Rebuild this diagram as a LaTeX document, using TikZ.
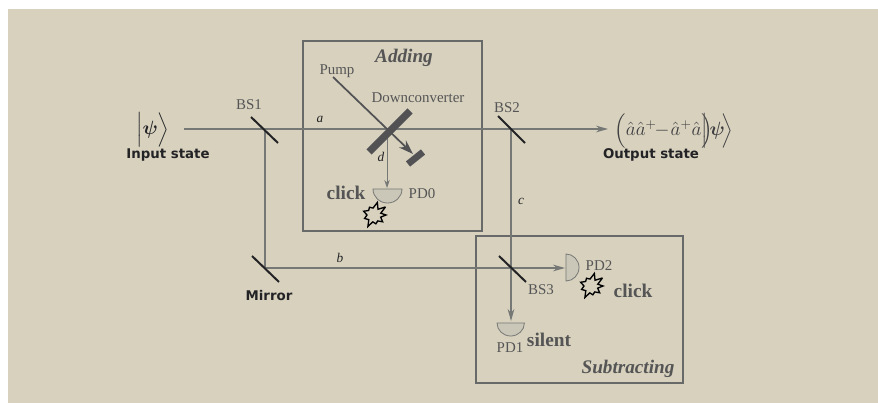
\documentclass[tikz,border=0pt]{standalone}
\usepackage{amsmath,bm}
\usepackage{fontspec}
\setmainfont{Liberation Serif}
\newfontfamily\labelsans{DejaVu Sans}
\usetikzlibrary{arrows.meta}
\definecolor{bgbeige}{RGB}{215,209,190}
\definecolor{boxgray}{RGB}{104,106,106}
\definecolor{beamgray}{RGB}{118,120,118}
\definecolor{barblack}{RGB}{35,35,38}
\definecolor{bardark}{RGB}{82,82,84}
\definecolor{txtgray}{RGB}{85,85,85}
\definecolor{mathgray}{RGB}{62,62,64}
\definecolor{pdfill}{RGB}{202,199,184}
\tikzset{
  x=0.75pt,y=-0.75pt,
  framebox/.style={draw=boxgray,line width=1.3pt},
  beam/.style={draw=beamgray,line width=0.8pt},
  beamtip/.style={beam,-{Stealth[length=9pt,width=5pt,fill=beamgray]}},
  splitter/.style={draw=barblack,line width=1.5pt},
  detector/.style={draw=beamgray,line width=0.6pt,fill=pdfill},
  burst/.style={draw=black,line width=1pt,fill=bgbeige,line join=miter,miter limit=3},
  lbl/.style={font=\fontsize{11.2pt}{13pt}\selectfont,text=txtgray,inner sep=0pt},
  beamlbl/.style={font=\fontsize{10pt}{12pt}\selectfont\itshape,text=barblack,inner sep=0pt},
  sanslbl/.style={font=\labelsans\bfseries\fontsize{10pt}{12pt}\selectfont,text=barblack,inner sep=0pt},
  boldlbl/.style={font=\bfseries\fontsize{14.5pt}{16pt}\selectfont,text=txtgray,inner sep=0pt},
  titlelbl/.style={font=\bfseries\itshape\fontsize{14.4pt}{16pt}\selectfont,text=txtgray,inner sep=0pt},
}
\begin{document}
\begin{tikzpicture}
\useasboundingbox (0,0) rectangle (878,403);
\fill[white] (0,0) rectangle (878,403);
\fill[bgbeige] (8,9) rectangle (878,403);
% frames
\draw[framebox] (303,41) rectangle (482,231);
\draw[framebox] (476,236) rectangle (683,383);
% junctions
\coordinate (start) at (184,129);
\coordinate (bs1) at (265,129);
\coordinate (bs2) at (511,129);
\coordinate (out) at (608,129);
\coordinate (mirror) at (265,268);
\coordinate (bs3) at (511,268);
\coordinate (pumpstart) at (333,77);
\coordinate (dc) at (387,131);
\coordinate (pumpend) at (413,154);
% detectors
\draw[detector] (373,189) arc[start angle=180,end angle=0,x radius=14.5,y radius=14] -- cycle;
\coordinate (pd0) at (387,188);
\draw[detector] (566,254) arc[start angle=-90,end angle=90,x radius=13,y radius=13.5] -- cycle;
\coordinate (pd2) at (565,268);
\draw[detector] (497,323) arc[start angle=180,end angle=0,x radius=13.7,y radius=13] -- cycle;
\coordinate (pd1) at (511,321);
% beams
\draw[beam] (start) -- (bs2);
\draw[beamtip] (bs2) -- (out);
\draw[beam] (bs1) -- (mirror);
\draw[beamtip] (mirror) -- (pd2);
\draw[beamtip] (bs2) -- (pd1);
\draw[beam,line width=0.6pt,-{Stealth[length=6pt,width=4pt,fill=beamgray]}] (dc) -- (pd0);
\draw[draw=bardark,line width=1.3pt,-{Stealth[length=11pt,width=7.5pt,fill=bardark]}] (pumpstart) -- (pumpend);
% splitters and mirrors
\draw[splitter] (251,117) -- (278,143);
\draw[splitter] (252,256) -- (279,282);
\draw[splitter] (498,116) -- (525,143);
\draw[splitter] (499,256) -- (526,282);
\draw[draw=bardark,line width=5.5pt] (369,152) -- (410,111);
\draw[draw=bardark,line width=5pt] (408,164) -- (423,152);
% bursts
\draw[burst,shift={(374,215)}] (0:12) -- (18:7) -- (38:11) -- (58:7) -- (78:9) -- (100:7) -- (118:13) -- (138:7) -- (160:10) -- (180:7) -- (200:11) -- (220:7) -- (240:9) -- (262:7) -- (285:13) -- (305:7) -- (325:14) -- (345:7) -- cycle;
\draw[burst,shift={(591,286)}] (0:12) -- (18:7) -- (38:11) -- (58:7) -- (78:9) -- (100:7) -- (118:13) -- (138:7) -- (160:10) -- (180:7) -- (200:11) -- (220:7) -- (240:9) -- (262:7) -- (285:13) -- (305:7) -- (325:14) -- (345:7) -- cycle;
% labels
\node[lbl] at (337,71) {Pump};
\node[lbl] at (418,98) {Downconverter};
\node[lbl] at (249,105) {BS1};
\node[lbl] at (507,108) {BS2};
\node[lbl] at (422,194) {PD0};
\node[lbl] at (599,266) {PD2};
\node[lbl] at (541,290) {BS3};
\node[lbl] at (510,348) {PD1};
\node[beamlbl] at (320,119) {a};
\node[beamlbl] at (381,157) {d};
\node[beamlbl] at (521,201) {c};
\node[beamlbl] at (340,258) {b};
\node[titlelbl] at (404,58) {Adding};
\node[titlelbl] at (628,369) {Subtracting};
\node[boldlbl] at (346,193) {click};
\node[boldlbl] at (633,291) {click};
\node[boldlbl] at (549,340) {silent};
\node[sanslbl] at (168,155) {Input state};
\node[sanslbl] at (651,155) {Output state};
\node[sanslbl] at (269,296) {Mirror};
\node[inner sep=0pt,text=barblack,font=\fontsize{14pt}{16pt}\selectfont] at (153,130) {$\Big|\bm{\psi}\Big\rangle$};
\node[inner sep=0pt,text=mathgray,font=\fontsize{14pt}{16pt}\selectfont] at (674,131) {$\Big(\hat a\hat a^{+}\!\!-\!\hat a^{+}\hat a\Big|\!\!\Big)\!\bm{\psi}\!\Big\rangle$};
\end{tikzpicture}
\end{document}
